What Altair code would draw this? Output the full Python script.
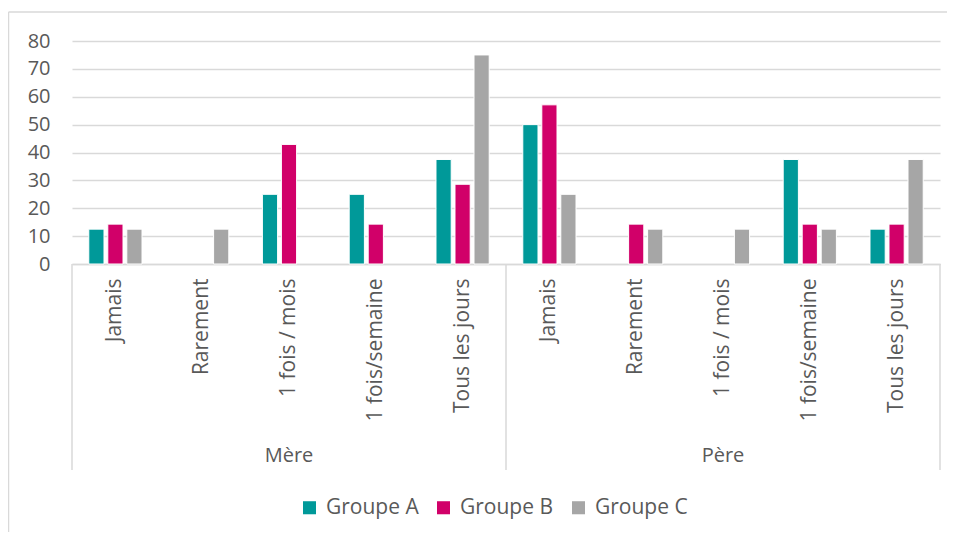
import altair as alt
import pandas as pd

parents = ["Mère", "Père"]
subcats = ["Jamais", "Rarement", "1 fois / mois", "1 fois/semaine", "Tous les jours"]
groups = ["Groupe A", "Groupe B", "Groupe C"]
colors = ["#009999", "#D10069", "#A6A6A6"]

# values in order: Mère (5 subcats), then Père (5 subcats)
groupe_a = [12.5, 0, 25, 25, 37.5, 50, 0, 0, 37.5, 12.5]
groupe_b = [14.3, 0, 42.9, 14.3, 28.6, 57.1, 14.3, 0, 14.3, 14.3]
groupe_c = [12.5, 12.5, 0, 0, 75, 25, 12.5, 12.5, 12.5, 37.5]
y_ticks = [0, 10, 20, 30, 40, 50, 60, 70, 80]

keys = [f"{p}|{s}" for p in parents for s in subcats]
rows = []
for g, vals in zip(groups, [groupe_a, groupe_b, groupe_c]):
    for k, v in zip(keys, vals):
        rows.append({"key": k, "group": g, "value": v})
df = pd.DataFrame(rows)

W, H = 868, 223
FONT = "Open Sans"
TXT = "#595959"
LINE = "#D9D9D9"

xscale = alt.Scale(paddingInner=0.387, paddingOuter=0.1935)

bars = alt.Chart(df).transform_filter("datum.value > 0").mark_bar(
    stroke="white", strokeWidth=1).encode(
    x=alt.X("key:N", sort=keys, scale=xscale,
            axis=alt.Axis(title=None, labelExpr="split(datum.label, '|')[1]",
                          labelAngle=-90, labelAlign="right", labelBaseline="middle",
                          labelPadding=14, ticks=False, domainColor=LINE, domainWidth=1.5,
                          labelFontSize=21, labelColor=TXT, labelFont=FONT)),
    xOffset=alt.XOffset("group:N", sort=groups,
                        scale=alt.Scale(domain=groups, paddingInner=0.2)),
    y=alt.Y("value:Q", scale=alt.Scale(domain=[0, 80]),
            axis=alt.Axis(title=None, values=y_ticks, domain=False, ticks=False,
                          gridColor=LINE, gridWidth=1.5, labelPadding=22,
                          labelFontSize=20, labelColor=TXT, labelFont=FONT)),
    color=alt.Color("group:N", sort=groups,
                    scale=alt.Scale(domain=groups, range=colors),
                    legend=alt.Legend(orient="none", direction="horizontal",
                                      legendX=227, legendY=456, title=None,
                                      symbolType="square", symbolSize=170,
                                      symbolStrokeWidth=0, labelFontSize=21,
                                      labelColor=TXT, labelFont=FONT,
                                      columnPadding=14, labelOffset=6)),
)

# group labels centred under each parent group (middle subcategory)
df_par = pd.DataFrame({"key": [f"{p}|{subcats[2]}" for p in parents], "label": parents})
par_text = alt.Chart(df_par).mark_text(fontSize=20, font=FONT, color=TXT,
                                       baseline="middle").encode(
    x=alt.X("key:N", sort=keys, scale=xscale),
    y=alt.value(H + 192),
    text="label:N",
)

# vertical separators of the multi-level axis
df_sep = pd.DataFrame({"px": [0, W / 2, W]})
seps = alt.Chart(df_sep).mark_rule(color=LINE, strokeWidth=1.5).encode(
    x=alt.X("px:Q", scale=None),
    y=alt.value(H),
    y2=alt.value(H + 206),
)

# outer chart-area frame (top and left edges)
frame_top = alt.Chart(pd.DataFrame({"a": [0]})).mark_rule(color=LINE, strokeWidth=1.5).encode(
    x=alt.value(-63.5), x2=alt.value(W + 7), y=alt.value(-29))
frame_left = alt.Chart(pd.DataFrame({"a": [0]})).mark_rule(color=LINE, strokeWidth=1.5).encode(
    x=alt.value(-63.5), y=alt.value(-29), y2=alt.value(H + 268))

chart = alt.layer(bars, par_text, seps, frame_top, frame_left).properties(
    width=W, height=H,
    autosize=alt.AutoSizeParams(type="none"),
    padding={"left": 64, "top": 33, "right": 7, "bottom": 268},
).configure_view(stroke=None).resolve_scale(x="shared")

chart.save("out.html", embed_options={"renderer": "svg", "actions": False})
